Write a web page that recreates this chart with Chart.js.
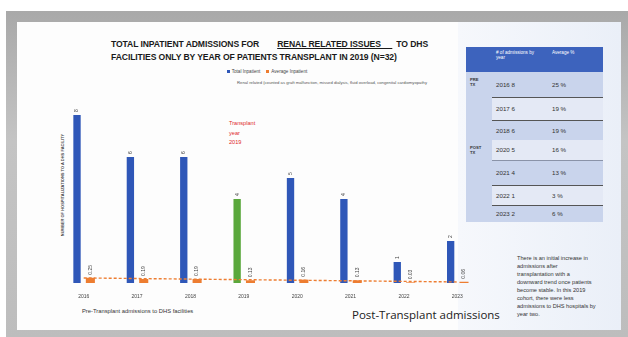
<!DOCTYPE html>
<html><head><meta charset="utf-8">
<script src="https://cdn.jsdelivr.net/npm/chart.js@4/dist/chart.umd.min.js"></script>
<style>
html,body{margin:0;padding:0;background:#fff;width:628px;height:337px;overflow:hidden;font-family:"Liberation Sans",Arial,sans-serif;}
#frame{position:absolute;left:6px;top:11px;width:622px;height:326px;background:linear-gradient(#a9a9a9,#c4c4c4 40%,#bdbdbd);}
#slide{position:absolute;left:17px;top:22px;width:604px;height:308px;background:#fdfdfd;}
#panel{position:absolute;left:458px;top:22px;width:163px;height:308px;background:linear-gradient(90deg,#f6f8fc,#eaeff8);}
.abs{position:absolute;}
#title{left:111px;top:38px;text-align:left;font-weight:bold;font-size:8.6px;line-height:13px;color:#1a1a1a;white-space:nowrap;letter-spacing:-0.1px;}
#title u{margin:0 4px 0 18px;}
#legend{left:150px;top:69px;width:230px;text-align:center;font-size:4.6px;color:#444;white-space:nowrap;}
#legend span.b{display:inline-block;width:3px;height:3px;margin:0 2px 0 4px;}
#sub{left:150px;top:80px;width:277px;text-align:right;font-size:4.2px;color:#555;white-space:nowrap;}
#ytitle{left:62px;top:185px;font-size:4px;font-weight:bold;color:#444;white-space:nowrap;transform:translate(-50%,-50%) rotate(-90deg);}
#tx{left:229px;top:119px;font-size:5.6px;line-height:9.5px;color:#e02a2a;}
#pre{left:82px;top:308px;font-size:5.8px;color:#333;white-space:nowrap;}
#post{left:352px;top:307px;font-size:11.5px;color:#222;white-space:nowrap;font-family:"Open Sans",sans-serif;}
#note{left:517px;top:254px;font-size:5.6px;line-height:8px;color:#333;white-space:nowrap;}
#tbl{left:466px;top:47px;border-collapse:collapse;font-size:6.2px;color:#333;}
#tbl td{padding:0 0 0 4px;vertical-align:middle;}
#tbl th{background:#3d63bd;color:#fff;font-weight:normal;text-align:left;vertical-align:top;padding:3px 4px;font-size:4.6px;height:19px;}
#c{position:absolute;left:57px;top:94px;}
</style></head>
<body>
<div id="frame"></div>
<div id="slide"></div>
<div id="panel"></div>
<div id="title" class="abs">TOTAL INPATIENT ADMISSIONS FOR<u>RENAL RELATED ISSUES&nbsp;&nbsp;&nbsp;&nbsp;&nbsp;</u>TO DHS<br>FACILITIES ONLY BY YEAR OF PATIENTS TRANSPLANT IN 2019 (N=32)</div>
<div id="legend" class="abs"></div>
<div id="sub" class="abs">Renal related (counted as graft malfunction, missed dialysis, fluid overload, congenital cardiomyopathy</div>
<div id="ytitle" class="abs">NUMBER OF HOSPITALIZATIONS TO A DHS FACILITY</div>
<div id="tx" class="abs">Transplant<br>year<br>2019</div>
<div id="pre" class="abs">Pre-Transplant admissions to DHS facilities</div>
<div id="post" class="abs">Post-Transplant admissions</div>
<div id="note" class="abs">There is an initial increase in<br>admissions after<br>transplantation with a<br>downward trend once patients<br>become stable. In this 2019<br>cohort, there were less<br>admissions to DHS hospitals by<br>year two.</div>
<table id="tbl" class="abs"></table>
<canvas id="c" width="427" height="205"></canvas>
<script>
// ---- data ----
const years = ["2016","2017","2018","2019","2020","2021","2022","2023"];
const totalInpatient = [8, 6, 6, 4, 5, 4, 1, 2];
const averageInpatient = [0.25, 0.19, 0.19, 0.13, 0.16, 0.13, 0.03, 0.06];
const trendEnds = [0.24, null, null, null, null, null, null, 0.05];
const transplantYear = "2019";

const BLUE = "#2f57b8", GREEN = "#5aa83c", ORANGE = "#ed7d31";

// legend
document.getElementById("legend").innerHTML =
  '<span class="b" style="background:'+BLUE+'"></span>Total Inpatient' +
  '<span class="b" style="background:'+ORANGE+';margin-left:6px"></span>Average Inpatient';

// table
(function(){
  const t = document.getElementById("tbl");
  let h = '<tr><th style="width:18px"></th><th style="width:48px"># of admissions by year</th><th style="width:47px">Average %</th></tr>';
  const rowsH = [25, 23, 20, 20, 25, 20, 17];
  let r = 0;
  years.forEach((y, i) => {
    if (y === transplantYear) return;
    let first = '';
    if (r === 0) first = '<td rowspan="3" style="background:#c9d4ec;vertical-align:top;padding-top:5px;font-size:4.2px;font-weight:bold;line-height:5px">PRE<br>TX</td>';
    else if (r === 3) first = '<td rowspan="4" style="background:#c9d4ec;vertical-align:top;padding-top:5px;font-size:4.2px;font-weight:bold;line-height:5px">POST<br>TX</td>';
    const bg = (r % 2 === 0) ? "#c9d4ec" : "#e4e9f5";
    const line = (r === 1 || r === 2 || r === 5 || r === 6) ? "border-top:1.5px solid #555;" : (r===4 ? "border-top:1px solid #8a93a8;" : "");
    h += '<tr style="height:'+rowsH[r]+'px">' + first +
      '<td style="background:'+bg+';'+line+'">'+y+' '+totalInpatient[i]+'</td>' +
      '<td style="background:'+bg+';'+line+'">'+Math.round(averageInpatient[i]*100)+' %</td></tr>';
    r++;
  });
  t.innerHTML = h;
})();

const labelPlugin = {
  id: "vlabels",
  afterDatasetsDraw(chart) {
    const ctx = chart.ctx;
    ctx.save();
    ctx.fillStyle = "#444";
    ctx.font = "5px 'Liberation Sans', Arial";
    ctx.textBaseline = "middle";
    ctx.textAlign = "left";
    [0, 1].forEach(di => {
      const meta = chart.getDatasetMeta(di);
      meta.data.forEach((el, i) => {
        const v = chart.data.datasets[di].data[i];
        const txt = di === 0 ? String(v) : v.toFixed(2);
        ctx.save();
        ctx.translate(el.x, el.y - 3);
        ctx.rotate(-Math.PI / 2);
        ctx.fillText(txt, 0, 0);
        ctx.restore();
      });
    });
    ctx.restore();
  }
};

new Chart(document.getElementById("c"), {
  data: {
    labels: years,
    datasets: [
      { type: "bar", label: "Total Inpatient", data: totalInpatient,
        backgroundColor: years.map(y => y === transplantYear ? GREEN : BLUE),
        barPercentage: 0.55, categoryPercentage: 0.5, order: 2 },
      { type: "bar", label: "Average Inpatient", data: averageInpatient,
        backgroundColor: ORANGE, barPercentage: 0.68, categoryPercentage: 0.5, order: 2 },
      { type: "line", label: "Trend", data: trendEnds, spanGaps: true,
        borderColor: ORANGE, borderWidth: 1.4, borderDash: [3, 2], pointRadius: 0, order: 1 }
    ]
  },
  options: {
    responsive: false, animation: false,
    layout: { padding: 0 },
    plugins: { legend: { display: false }, tooltip: { enabled: false } },
    scales: {
      x: { grid: { display: false }, border: { display: false },
           ticks: { font: { size: 5 }, color: "#444", padding: 3, maxRotation: 0 },
           afterFit: s => { s.height = 16; } },
      y: { display: false, min: 0, max: 9 }
    }
  },
  plugins: [labelPlugin]
});
</script>
</body></html>
